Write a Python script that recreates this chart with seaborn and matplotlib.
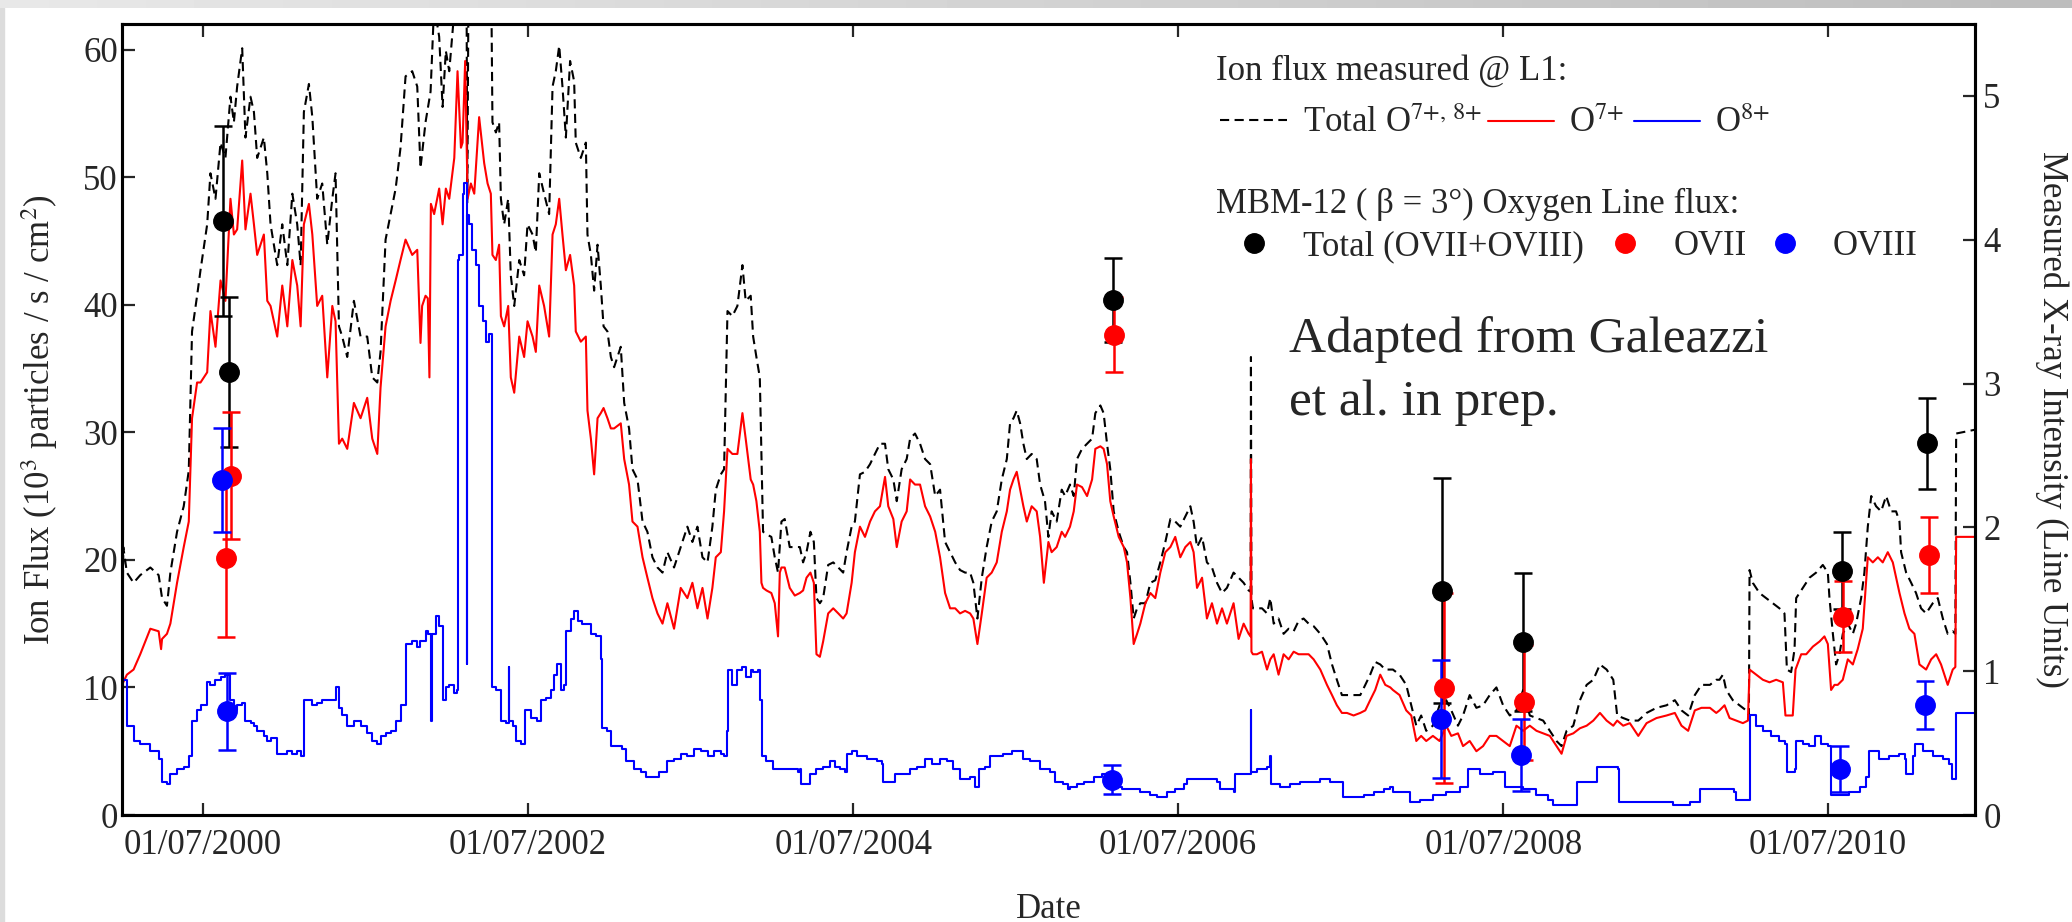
import numpy as np
import pandas as pd
import matplotlib
matplotlib.use("Agg")
import matplotlib.pyplot as plt
import matplotlib.dates as mdates
from matplotlib.lines import Line2D
from matplotlib.patches import Rectangle
import seaborn as sns

# ---------------- data (decimal years) ----------------
total_t = [
2000.000, 2000.008, 2000.030, 2000.071, 2000.112, 2000.174, 2000.225, 2000.246, 2000.276, 2000.297,
2000.338, 2000.379, 2000.410, 2000.430, 2000.461, 2000.482, 2000.523, 2000.543, 2000.574, 2000.605,
2000.635, 2000.666, 2000.687, 2000.707, 2000.738, 2000.758, 2000.789, 2000.810, 2000.830, 2000.871,
2000.892, 2000.912, 2000.953, 2000.984, 2001.015, 2001.046, 2001.076, 2001.097, 2001.117, 2001.148,
2001.169, 2001.199, 2001.230, 2001.261, 2001.292, 2001.312, 2001.333, 2001.353, 2001.384, 2001.425,
2001.466, 2001.507, 2001.538, 2001.569, 2001.589, 2001.620, 2001.651, 2001.682, 2001.712, 2001.743,
2001.784, 2001.815, 2001.835, 2001.866, 2001.897, 2001.919, 2001.950, 2001.971, 2001.991, 2002.012,
2002.043, 2002.063, 2002.094, 2002.119, 2002.123, 2002.130, 2002.270, 2002.278, 2002.299, 2002.319,
2002.330, 2002.350, 2002.375, 2002.391, 2002.412, 2002.443, 2002.473, 2002.494, 2002.525, 2002.545,
2002.566, 2002.596, 2002.627, 2002.648, 2002.668, 2002.689, 2002.709, 2002.730, 2002.756, 2002.781,
2002.791, 2002.822, 2002.853, 2002.863, 2002.884, 2002.904, 2002.925, 2002.945, 2002.962, 2002.986,
2003.007, 2003.027, 2003.068, 2003.089, 2003.119, 2003.140, 2003.171, 2003.202, 2003.232, 2003.263,
2003.294, 2003.325, 2003.355, 2003.396, 2003.437, 2003.478, 2003.509, 2003.540, 2003.571, 2003.602,
2003.632, 2003.653, 2003.684, 2003.704, 2003.725, 2003.755, 2003.786, 2003.817, 2003.837, 2003.868,
2003.883, 2003.903, 2003.924, 2003.934, 2003.944, 2003.965, 2003.995, 2004.016, 2004.036, 2004.057,
2004.077, 2004.108, 2004.139, 2004.170, 2004.190, 2004.211, 2004.235, 2004.256, 2004.272, 2004.293,
2004.313, 2004.344, 2004.375, 2004.406, 2004.436, 2004.457, 2004.488, 2004.508, 2004.539, 2004.570,
2004.601, 2004.631, 2004.662, 2004.693, 2004.713, 2004.744, 2004.765, 2004.795, 2004.826, 2004.847,
2004.877, 2004.908, 2004.939, 2004.970, 2005.001, 2005.031, 2005.062, 2005.093, 2005.124, 2005.154,
2005.185, 2005.216, 2005.236, 2005.261, 2005.288, 2005.318, 2005.349, 2005.380, 2005.411, 2005.442,
2005.462, 2005.483, 2005.503, 2005.524, 2005.544, 2005.565, 2005.595, 2005.626, 2005.647, 2005.677,
2005.698, 2005.718, 2005.749, 2005.780, 2005.801, 2005.831, 2005.854, 2005.874, 2005.905, 2005.936,
2005.967, 2005.987, 2006.018, 2006.038, 2006.059, 2006.079, 2006.100, 2006.131, 2006.162, 2006.182,
2006.203, 2006.223, 2006.244, 2006.264, 2006.295, 2006.326, 2006.356, 2006.387, 2006.418, 2006.449,
2006.479, 2006.510, 2006.541, 2006.572, 2006.592, 2006.613, 2006.644, 2006.674, 2006.705, 2006.736,
2006.767, 2006.797, 2006.838, 2006.869, 2006.900, 2006.931, 2006.943, 2006.945, 2006.948, 2006.957,
2006.982, 2007.013, 2007.044, 2007.064, 2007.085, 2007.115, 2007.146, 2007.177, 2007.208, 2007.238,
2007.269, 2007.300, 2007.331, 2007.372, 2007.413, 2007.444, 2007.474, 2007.505, 2007.536, 2007.577,
2007.618, 2007.649, 2007.679, 2007.710, 2007.741, 2007.772, 2007.803, 2007.819, 2007.860, 2007.901,
2007.932, 2007.963, 2007.993, 2008.024, 2008.065, 2008.106, 2008.147, 2008.178, 2008.219, 2008.250,
2008.291, 2008.332, 2008.373, 2008.414, 2008.455, 2008.496, 2008.537, 2008.578, 2008.619, 2008.660,
2008.701, 2008.742, 2008.783, 2008.824, 2008.855, 2008.886, 2008.927, 2008.968, 2009.009, 2009.050,
2009.091, 2009.132, 2009.173, 2009.197, 2009.234, 2009.275, 2009.327, 2009.378, 2009.439, 2009.501,
2009.552, 2009.593, 2009.634, 2009.675, 2009.716, 2009.768, 2009.807, 2009.827, 2009.848, 2009.868,
2009.909, 2009.950, 2009.991, 2010.008, 2010.012, 2010.032, 2010.073, 2010.114, 2010.155, 2010.196,
2010.227, 2010.242, 2010.268, 2010.289, 2010.299, 2010.340, 2010.381, 2010.422, 2010.463, 2010.494,
2010.504, 2010.525, 2010.545, 2010.566, 2010.586, 2010.617, 2010.648, 2010.668, 2010.699, 2010.719,
2010.740, 2010.761, 2010.791, 2010.822, 2010.853, 2010.884, 2010.914, 2010.935, 2010.945, 2010.976,
2011.007, 2011.037, 2011.068, 2011.099, 2011.140, 2011.171, 2011.202, 2011.232, 2011.263, 2011.279,
2011.284, 2011.400]
total_v = [
10.5, 21.0, 19.0, 18.2, 18.8, 19.4, 18.8, 17.0, 16.4, 19.0,
22.2, 24.2, 27.0, 37.9, 40.7, 42.7, 46.3, 50.3, 48.3, 52.7,
51.5, 56.3, 54.3, 57.1, 60.1, 53.1, 56.3, 55.1, 51.5, 53.1,
50.3, 46.3, 43.1, 46.3, 43.1, 48.7, 46.3, 43.1, 55.1, 57.3,
54.7, 48.3, 49.5, 44.7, 48.3, 50.3, 38.3, 37.5, 35.9, 40.3,
37.5, 37.5, 34.3, 33.9, 36.3, 45.1, 47.1, 49.1, 52.3, 57.9,
58.3, 57.1, 50.7, 54.3, 56.7, 63.5, 61.0, 55.5, 59.9, 58.3,
63.0, 64.0, 64.0, 63.0, 48.0, 64.0, 66.0, 54.3, 53.5, 54.3,
48.3, 46.3, 48.3, 42.3, 39.9, 43.5, 42.3, 46.3, 45.5, 44.1,
50.3, 48.7, 47.1, 57.1, 58.3, 60.3, 57.1, 53.1, 59.1, 57.5,
52.7, 51.5, 52.7, 45.5, 43.9, 41.1, 44.7, 41.5, 38.3, 37.9,
35.9, 35.1, 36.7, 32.3, 30.3, 27.1, 26.3, 23.0, 22.2, 20.2,
19.4, 19.0, 20.6, 19.4, 21.0, 22.6, 21.4, 22.6, 20.2, 19.8,
22.6, 25.5, 26.7, 27.1, 39.5, 39.1, 39.9, 43.1, 40.3, 40.7,
37.5, 35.9, 34.3, 28.3, 22.2, 22.0, 21.8, 20.2, 19.0, 23.0,
23.2, 21.0, 21.0, 21.0, 19.8, 20.6, 22.2, 21.4, 17.0, 16.6,
17.0, 19.6, 19.8, 19.4, 19.0, 20.6, 22.6, 23.0, 26.7, 26.9,
27.5, 28.3, 29.1, 29.1, 27.1, 26.3, 24.6, 27.1, 27.9, 29.5,
29.9, 29.1, 27.9, 27.5, 25.0, 25.5, 21.4, 20.6, 19.8, 19.2,
19.0, 19.0, 18.2, 15.4, 18.6, 21.0, 23.0, 23.8, 26.3, 27.9,
30.7, 31.1, 31.7, 30.7, 29.1, 27.9, 28.3, 27.9, 25.9, 24.6,
21.8, 23.8, 23.0, 25.5, 25.0, 25.9, 25.0, 27.9, 28.7, 29.1,
29.5, 31.5, 32.1, 31.5, 29.1, 27.1, 23.8, 22.2, 21.0, 20.6,
18.2, 15.4, 16.2, 16.6, 16.6, 18.2, 18.4, 19.8, 21.4, 23.2,
23.0, 22.6, 23.4, 24.2, 23.0, 21.0, 21.8, 19.8, 19.4, 18.2,
17.4, 17.8, 19.0, 18.6, 18.2, 17.6, 17.5, 35.9, 17.0, 16.2,
16.2, 16.2, 15.8, 17.0, 15.0, 15.4, 14.2, 14.6, 14.4, 15.2,
15.4, 15.0, 14.8, 14.2, 13.4, 11.8, 10.6, 9.4, 9.4, 9.4,
9.4, 10.2, 11.0, 12.0, 11.8, 11.4, 11.4, 11.4, 11.0, 10.2,
8.6, 7.0, 7.8, 6.6, 7.0, 8.6, 9.0, 8.2, 7.0, 7.8,
9.4, 8.4, 8.6, 9.4, 10.0, 8.6, 7.8, 8.2, 9.8, 7.8,
7.6, 7.4, 6.6, 5.8, 5.4, 6.6, 7.0, 9.0, 10.2, 10.6,
11.8, 11.4, 10.6, 7.8, 7.6, 7.4, 7.4, 8.0, 8.4, 8.6,
9.0, 8.2, 7.8, 9.4, 10.2, 10.2, 10.6, 10.6, 11.0, 9.8,
9.0, 8.6, 8.2, 7.8, 19.2, 18.2, 17.4, 17.0, 16.6, 16.2,
15.8, 11.4, 11.2, 13.0, 17.0, 17.8, 18.6, 19.0, 19.6, 19.0,
17.0, 14.2, 11.8, 12.6, 14.2, 15.0, 14.2, 15.0, 17.0, 19.0,
22.6, 25.0, 24.2, 23.8, 25.0, 23.8, 23.8, 23.0, 20.6, 19.0,
18.2, 17.4, 16.2, 15.8, 16.6, 17.0, 15.4, 14.2, 14.4, 14.2,
29.9, 30.2]

o7_t = [
2000.000, 2000.030, 2000.071, 2000.112, 2000.174, 2000.225, 2000.240, 2000.246, 2000.276, 2000.297,
2000.338, 2000.379, 2000.410, 2000.430, 2000.461, 2000.482, 2000.523, 2000.543, 2000.574, 2000.605,
2000.635, 2000.666, 2000.687, 2000.707, 2000.738, 2000.758, 2000.789, 2000.810, 2000.830, 2000.871,
2000.892, 2000.912, 2000.953, 2000.984, 2001.015, 2001.046, 2001.076, 2001.097, 2001.117, 2001.148,
2001.169, 2001.199, 2001.230, 2001.261, 2001.292, 2001.312, 2001.333, 2001.353, 2001.384, 2001.425,
2001.466, 2001.507, 2001.538, 2001.569, 2001.589, 2001.620, 2001.651, 2001.682, 2001.712, 2001.743,
2001.784, 2001.815, 2001.835, 2001.845, 2001.866, 2001.880, 2001.890, 2001.899, 2001.919, 2001.950,
2001.971, 2001.991, 2002.012, 2002.043, 2002.063, 2002.084, 2002.094, 2002.110, 2002.125, 2002.145,
2002.166, 2002.196, 2002.227, 2002.248, 2002.268, 2002.278, 2002.299, 2002.319, 2002.330, 2002.350,
2002.375, 2002.391, 2002.412, 2002.443, 2002.473, 2002.494, 2002.525, 2002.545, 2002.566, 2002.596,
2002.627, 2002.648, 2002.668, 2002.689, 2002.709, 2002.730, 2002.756, 2002.781, 2002.791, 2002.822,
2002.853, 2002.863, 2002.884, 2002.904, 2002.925, 2002.945, 2002.962, 2002.986, 2003.007, 2003.027,
2003.068, 2003.089, 2003.119, 2003.140, 2003.171, 2003.202, 2003.232, 2003.263, 2003.294, 2003.325,
2003.355, 2003.396, 2003.437, 2003.478, 2003.509, 2003.540, 2003.571, 2003.602, 2003.632, 2003.653,
2003.684, 2003.704, 2003.725, 2003.755, 2003.786, 2003.817, 2003.837, 2003.868, 2003.883, 2003.903,
2003.924, 2003.934, 2003.944, 2003.965, 2003.995, 2004.016, 2004.036, 2004.047, 2004.057, 2004.077,
2004.108, 2004.139, 2004.170, 2004.190, 2004.211, 2004.235, 2004.256, 2004.272, 2004.293, 2004.313,
2004.344, 2004.375, 2004.406, 2004.436, 2004.457, 2004.488, 2004.508, 2004.539, 2004.570, 2004.601,
2004.631, 2004.662, 2004.693, 2004.713, 2004.744, 2004.765, 2004.795, 2004.826, 2004.847, 2004.877,
2004.908, 2004.939, 2004.970, 2005.001, 2005.031, 2005.062, 2005.093, 2005.124, 2005.154, 2005.185,
2005.216, 2005.236, 2005.261, 2005.288, 2005.318, 2005.349, 2005.380, 2005.411, 2005.442, 2005.462,
2005.483, 2005.503, 2005.524, 2005.544, 2005.565, 2005.595, 2005.626, 2005.647, 2005.670, 2005.698,
2005.718, 2005.749, 2005.780, 2005.801, 2005.831, 2005.854, 2005.874, 2005.905, 2005.936, 2005.967,
2005.987, 2006.018, 2006.038, 2006.059, 2006.079, 2006.100, 2006.131, 2006.162, 2006.182, 2006.203,
2006.223, 2006.244, 2006.264, 2006.295, 2006.326, 2006.356, 2006.387, 2006.418, 2006.449, 2006.479,
2006.510, 2006.541, 2006.572, 2006.592, 2006.613, 2006.644, 2006.674, 2006.705, 2006.736, 2006.767,
2006.797, 2006.838, 2006.869, 2006.900, 2006.931, 2006.943, 2006.945, 2006.948, 2006.957, 2006.982,
2007.013, 2007.044, 2007.064, 2007.085, 2007.115, 2007.146, 2007.177, 2007.208, 2007.238, 2007.269,
2007.300, 2007.331, 2007.372, 2007.413, 2007.444, 2007.474, 2007.505, 2007.536, 2007.577, 2007.618,
2007.649, 2007.679, 2007.710, 2007.741, 2007.772, 2007.803, 2007.819, 2007.860, 2007.901, 2007.932,
2007.963, 2007.993, 2008.024, 2008.065, 2008.106, 2008.147, 2008.178, 2008.219, 2008.250, 2008.291,
2008.332, 2008.373, 2008.414, 2008.455, 2008.496, 2008.537, 2008.578, 2008.619, 2008.660, 2008.701,
2008.742, 2008.783, 2008.824, 2008.855, 2008.886, 2008.927, 2008.968, 2009.009, 2009.050, 2009.091,
2009.132, 2009.173, 2009.197, 2009.234, 2009.275, 2009.327, 2009.378, 2009.439, 2009.501, 2009.552,
2009.593, 2009.634, 2009.675, 2009.716, 2009.768, 2009.807, 2009.827, 2009.858, 2009.889, 2009.930,
2009.971, 2010.002, 2010.012, 2010.053, 2010.094, 2010.135, 2010.176, 2010.217, 2010.233, 2010.278,
2010.295, 2010.330, 2010.361, 2010.402, 2010.443, 2010.473, 2010.494, 2010.514, 2010.535, 2010.555,
2010.586, 2010.617, 2010.648, 2010.678, 2010.709, 2010.740, 2010.771, 2010.802, 2010.832, 2010.863,
2010.894, 2010.935, 2010.966, 2010.996, 2011.027, 2011.058, 2011.099, 2011.130, 2011.161, 2011.191,
2011.232, 2011.263, 2011.279, 2011.284, 2011.400]
o7_v = [
10.2, 11.0, 11.4, 12.6, 14.6, 14.4, 13.0, 13.8, 14.2, 15.0,
18.2, 21.0, 23.0, 31.1, 33.9, 33.9, 34.7, 39.5, 36.7, 41.9,
40.3, 48.3, 45.5, 45.9, 51.3, 45.9, 48.7, 46.3, 43.9, 45.5,
40.3, 39.9, 37.5, 41.5, 38.3, 43.5, 41.5, 38.3, 46.3, 47.9,
45.5, 39.9, 40.7, 34.3, 39.9, 38.7, 29.1, 29.5, 28.7, 32.3,
31.1, 32.7, 29.5, 28.3, 33.5, 38.3, 40.3, 41.9, 43.5, 45.1,
43.9, 44.3, 37.0, 39.9, 40.7, 40.5, 34.3, 47.9, 47.1, 49.1,
46.3, 49.1, 48.3, 51.5, 58.3, 52.3, 52.7, 59.1, 48.3, 49.5,
48.7, 54.7, 51.1, 49.5, 48.7, 43.9, 43.5, 44.7, 39.1, 38.3,
39.9, 34.3, 33.1, 37.5, 35.9, 38.7, 37.5, 36.3, 41.5, 39.9,
37.5, 45.5, 46.3, 48.3, 45.5, 42.7, 43.9, 41.5, 37.9, 37.1,
37.5, 31.7, 29.5, 26.7, 31.1, 31.5, 31.9, 31.1, 30.3, 30.3,
30.7, 27.9, 25.9, 23.0, 22.6, 20.2, 18.6, 17.0, 15.8, 15.0,
16.6, 14.6, 17.8, 17.0, 18.2, 16.2, 17.8, 15.4, 17.8, 20.2,
20.6, 23.8, 28.7, 28.3, 28.3, 31.5, 29.5, 26.3, 25.9, 24.6,
22.2, 18.2, 17.8, 17.6, 17.4, 16.6, 14.0, 19.0, 19.4, 19.4,
17.8, 17.2, 17.4, 17.6, 18.6, 19.0, 18.2, 12.6, 12.4, 13.6,
15.8, 16.2, 15.8, 15.4, 15.8, 18.2, 20.6, 22.6, 21.8, 23.0,
23.8, 24.2, 26.5, 24.2, 23.2, 21.0, 23.0, 23.8, 26.3, 25.9,
25.9, 24.2, 23.4, 22.2, 20.2, 17.4, 16.2, 16.2, 15.8, 16.0,
15.8, 15.4, 13.4, 15.8, 18.6, 19.0, 19.8, 22.2, 23.8, 25.5,
26.3, 26.9, 25.5, 24.2, 23.0, 24.2, 23.8, 21.8, 18.2, 21.4,
20.6, 21.0, 22.2, 21.8, 22.6, 23.8, 25.9, 25.7, 25.0, 26.3,
28.7, 28.9, 28.7, 27.5, 24.6, 23.4, 21.8, 21.0, 19.8, 17.0,
13.4, 14.2, 15.0, 16.6, 17.4, 17.0, 19.0, 20.6, 21.0, 21.8,
20.2, 21.0, 21.4, 20.6, 17.8, 18.6, 15.4, 16.6, 15.0, 16.2,
15.0, 16.6, 13.8, 15.0, 14.2, 14.0, 27.9, 12.8, 12.6, 12.6,
12.8, 11.4, 12.2, 12.6, 11.0, 12.6, 12.2, 12.8, 12.6, 12.6,
12.6, 12.2, 11.4, 10.2, 9.4, 8.6, 8.0, 8.0, 7.8, 8.0,
8.2, 9.0, 9.8, 11.0, 10.2, 10.0, 9.8, 9.4, 8.2, 7.8,
5.8, 6.2, 5.8, 6.2, 5.8, 7.0, 6.2, 6.4, 5.4, 5.8,
5.0, 5.4, 6.2, 6.2, 5.8, 5.4, 7.0, 6.6, 7.0, 6.6,
6.4, 6.2, 5.4, 4.8, 6.2, 6.4, 6.8, 7.0, 7.4, 8.0,
7.4, 7.0, 7.4, 7.0, 7.2, 6.2, 7.2, 7.6, 7.8, 8.0,
7.0, 6.6, 8.2, 8.4, 8.4, 8.0, 8.2, 8.6, 7.6, 7.4,
7.2, 7.4, 11.4, 11.0, 10.6, 10.4, 10.6, 10.4, 7.8, 7.8,
11.4, 12.6, 12.6, 13.2, 13.6, 14.0, 13.4, 9.8, 10.2, 10.2,
10.6, 12.2, 11.8, 13.0, 14.6, 20.2, 19.8, 20.2, 19.8, 20.6,
19.8, 17.4, 15.8, 14.6, 14.2, 11.8, 11.4, 12.2, 12.6, 11.8,
10.2, 11.4, 11.6, 21.8, 21.8]

o8_t = [
2000.000, 2000.003, 2000.030, 2000.071, 2000.112, 2000.174, 2000.225, 2000.246, 2000.276, 2000.297,
2000.338, 2000.379, 2000.410, 2000.430, 2000.461, 2000.482, 2000.523, 2000.543, 2000.574, 2000.605,
2000.635, 2000.666, 2000.687, 2000.707, 2000.738, 2000.758, 2000.789, 2000.810, 2000.830, 2000.871,
2000.892, 2000.912, 2000.953, 2000.984, 2001.015, 2001.046, 2001.076, 2001.097, 2001.117, 2001.148,
2001.169, 2001.199, 2001.230, 2001.261, 2001.292, 2001.312, 2001.333, 2001.353, 2001.384, 2001.425,
2001.466, 2001.507, 2001.538, 2001.569, 2001.589, 2001.620, 2001.651, 2001.682, 2001.712, 2001.743,
2001.784, 2001.815, 2001.835, 2001.866, 2001.880, 2001.895, 2001.899, 2001.903, 2001.930, 2001.950,
2001.971, 2001.991, 2002.012, 2002.043, 2002.059, 2002.063, 2002.073, 2002.094, 2002.104, 2002.119,
2002.121, 2002.123, 2002.135, 2002.155, 2002.176, 2002.196, 2002.217, 2002.237, 2002.258, 2002.274,
2002.278, 2002.299, 2002.330, 2002.361, 2002.377, 2002.379, 2002.381, 2002.402, 2002.422, 2002.453,
2002.477, 2002.514, 2002.555, 2002.576, 2002.607, 2002.637, 2002.658, 2002.678, 2002.699, 2002.719,
2002.730, 2002.761, 2002.781, 2002.802, 2002.832, 2002.863, 2002.884, 2002.914, 2002.945, 2002.955,
2002.986, 2003.007, 2003.048, 2003.078, 2003.099, 2003.150, 2003.191, 2003.222, 2003.273, 2003.304,
2003.355, 2003.396, 2003.437, 2003.478, 2003.519, 2003.561, 2003.602, 2003.643, 2003.684, 2003.704,
2003.721, 2003.729, 2003.755, 2003.786, 2003.817, 2003.837, 2003.868, 2003.883, 2003.913, 2003.928,
2003.940, 2003.965, 2004.005, 2004.047, 2004.088, 2004.129, 2004.159, 2004.170, 2004.180, 2004.221,
2004.231, 2004.272, 2004.313, 2004.354, 2004.385, 2004.416, 2004.447, 2004.457, 2004.488, 2004.518,
2004.580, 2004.642, 2004.672, 2004.683, 2004.724, 2004.754, 2004.806, 2004.847, 2004.888, 2004.939,
2004.980, 2005.031, 2005.072, 2005.113, 2005.154, 2005.216, 2005.247, 2005.273, 2005.308, 2005.339,
2005.380, 2005.421, 2005.472, 2005.503, 2005.544, 2005.585, 2005.647, 2005.708, 2005.739, 2005.790,
2005.821, 2005.833, 2005.874, 2005.915, 2005.977, 2006.028, 2006.079, 2006.100, 2006.151, 2006.213,
2006.264, 2006.326, 2006.367, 2006.418, 2006.428, 2006.479, 2006.531, 2006.551, 2006.613, 2006.674,
2006.736, 2006.756, 2006.797, 2006.838, 2006.849, 2006.900, 2006.943, 2006.945, 2006.948, 2006.982,
2007.044, 2007.060, 2007.068, 2007.126, 2007.187, 2007.249, 2007.310, 2007.372, 2007.433, 2007.505,
2007.511, 2007.577, 2007.638, 2007.700, 2007.762, 2007.803, 2007.819, 2007.901, 2007.922, 2007.983,
2008.045, 2008.065, 2008.147, 2008.229, 2008.274, 2008.281, 2008.352, 2008.434, 2008.500, 2008.506,
2008.578, 2008.619, 2008.701, 2008.773, 2008.804, 2008.886, 2008.947, 2008.951, 2009.009, 2009.070,
2009.152, 2009.204, 2009.210, 2009.296, 2009.419, 2009.542, 2009.645, 2009.706, 2009.710, 2009.768,
2009.807, 2009.919, 2009.930, 2010.008, 2010.016, 2010.053, 2010.094, 2010.145, 2010.196, 2010.233,
2010.242, 2010.289, 2010.299, 2010.340, 2010.381, 2010.412, 2010.453, 2010.494, 2010.514, 2010.566,
2010.627, 2010.689, 2010.730, 2010.750, 2010.812, 2010.873, 2010.935, 2010.966, 2010.976, 2011.017,
2011.033, 2011.078, 2011.140, 2011.202, 2011.243, 2011.259, 2011.279, 2011.284, 2011.400]
o8_v = [
2.6, 10.6, 7.0, 5.8, 5.6, 5.0, 4.4, 2.6, 2.4, 3.2,
3.6, 3.8, 4.6, 7.4, 8.2, 8.6, 10.4, 10.2, 10.6, 10.8,
11.0, 9.0, 8.2, 8.6, 8.8, 7.4, 7.2, 7.0, 6.6, 6.2,
5.8, 6.0, 4.8, 4.8, 5.0, 4.8, 5.0, 4.6, 9.0, 9.0,
8.6, 8.8, 9.0, 9.0, 9.0, 10.0, 8.4, 7.8, 7.0, 7.4,
7.0, 6.4, 5.8, 5.6, 6.2, 6.4, 6.6, 7.4, 8.6, 13.4,
13.6, 13.2, 13.6, 14.4, 14.2, 14.2, 7.4, 14.2, 15.6, 14.8,
9.0, 10.0, 10.2, 9.6, 9.8, 43.5, 43.9, 48.7, 49.5, 47.0,
11.8, 47.0, 46.3, 44.3, 43.1, 39.9, 38.7, 37.1, 37.7, 35.9,
10.0, 9.8, 7.4, 7.2, 7.4, 11.6, 7.4, 7.0, 5.8, 5.6,
8.2, 7.6, 7.4, 9.0, 9.2, 9.8, 11.0, 11.8, 9.8, 10.2,
14.4, 15.4, 16.0, 15.2, 15.0, 15.0, 14.2, 14.0, 12.2, 6.8,
6.6, 5.4, 5.4, 5.2, 4.2, 3.6, 3.4, 3.0, 3.0, 3.4,
4.2, 4.4, 4.8, 4.6, 5.2, 5.0, 4.6, 5.0, 4.8, 4.6,
6.6, 11.4, 10.2, 11.4, 11.6, 10.8, 11.4, 11.2, 11.4, 9.0,
4.6, 4.2, 3.6, 3.6, 3.6, 3.6, 3.4, 3.6, 2.4, 2.4,
3.2, 3.6, 3.8, 4.2, 3.8, 3.6, 3.4, 4.8, 5.0, 4.6,
4.4, 4.2, 4.0, 2.6, 2.6, 3.2, 3.2, 3.6, 3.8, 4.4,
4.0, 4.4, 4.2, 3.6, 2.8, 3.0, 2.2, 3.6, 3.8, 4.6,
4.6, 4.8, 5.0, 5.0, 4.4, 4.2, 3.6, 3.4, 2.6, 2.4,
2.0, 2.2, 2.4, 2.6, 3.0, 3.2, 3.0, 2.2, 2.0, 2.0,
1.8, 1.6, 1.4, 1.4, 1.8, 2.0, 2.4, 2.8, 2.8, 2.8,
2.6, 2.0, 2.0, 1.8, 3.2, 3.2, 3.4, 8.2, 3.4, 3.6,
3.8, 4.6, 2.4, 2.2, 2.4, 2.6, 2.6, 2.8, 2.6, 2.6,
1.4, 1.4, 1.6, 1.8, 2.0, 2.2, 1.8, 1.8, 1.0, 1.2,
1.2, 1.6, 1.8, 2.2, 2.2, 3.6, 3.2, 3.4, 3.4, 2.2,
2.2, 2.0, 1.6, 1.2, 0.8, 0.8, 0.8, 2.6, 2.6, 3.8,
3.8, 3.6, 1.0, 1.0, 1.0, 0.8, 1.0, 1.0, 2.0, 2.0,
2.0, 1.8, 1.2, 1.2, 7.8, 7.0, 6.6, 6.2, 5.8, 5.6,
3.4, 3.6, 5.8, 5.6, 5.4, 6.2, 5.6, 5.4, 1.6, 1.6,
1.8, 2.2, 3.0, 5.0, 4.4, 4.6, 4.8, 4.4, 3.2, 4.6,
5.6, 5.0, 4.6, 4.4, 4.0, 2.8, 2.8, 8.0, 8.0]

# MBM-12 oxygen line fluxes (right axis, Line Units) with 1-sigma errors
obs_total_t = [2000.623, 2000.654, 2006.096, 2008.123, 2008.619, 2010.582, 2011.105]
obs_total_v = [4.13, 3.08, 3.58, 1.56, 1.20, 1.70, 2.585]
obs_total_e = [0.66, 0.52, 0.29, 0.78, 0.48, 0.27, 0.315]
obs_ovii_t = [2000.672, 2000.636, 2006.100, 2008.133, 2008.625, 2010.590, 2011.115]
obs_ovii_v = [2.36, 1.79, 3.34, 0.885, 0.785, 1.38, 1.81]
obs_ovii_e = [0.44, 0.55, 0.26, 0.66, 0.40, 0.245, 0.265]
obs_oviii_t = [2000.617, 2000.647, 2006.090, 2008.116, 2008.609, 2010.570, 2011.095]
obs_oviii_v = [2.33, 0.72, 0.245, 0.665, 0.415, 0.32, 0.765]
obs_oviii_e = [0.36, 0.27, 0.10, 0.41, 0.25, 0.16, 0.17]

tick_dates = ["2000-07-01", "2002-07-01", "2004-07-01", "2006-07-01", "2008-07-01", "2010-07-01"]
left_ticks = [0, 10, 20, 30, 40, 50, 60]
right_ticks = [0, 1, 2, 3, 4, 5]
x_range = (2000.0, 2011.40)

assert len(total_t) == len(total_v)
assert len(o7_t) == len(o7_v)
assert len(o8_t) == len(o8_v)


def dec2dt(t):
    y = int(np.floor(t))
    a = pd.Timestamp(year=y, month=1, day=1)
    b = pd.Timestamp(year=y + 1, month=1, day=1)
    return a + (b - a) * (t - y)


def dts(ts):
    return pd.to_datetime([dec2dt(t) for t in ts])


# ---------------- style ----------------
sns.set_style("ticks")
plt.rcParams["font.family"] = ["Liberation Serif", "DejaVu Serif"]
plt.rcParams["mathtext.fontset"] = "stix"

W, H = 2072, 922
fig = plt.figure(figsize=(W / 100, H / 100), dpi=100)
fig.patch.set_facecolor("white")

# slide decoration: grey band on top and thin grey stripe on the left
band = fig.add_axes([0, 1 - 8 / H, 1, 8 / H])
band.imshow(np.linspace(0.91, 0.74, 256)[None, :], cmap="gray", vmin=0, vmax=1,
            aspect="auto", extent=(0, 1, 0, 1))
band.set_axis_off()
fig.add_artist(Rectangle((0, 0), 4 / W, 1 - 8 / H, transform=fig.transFigure,
                         color="#dcdcdc", zorder=0))

ax = fig.add_axes([122 / W, 1 - 815 / H, 1853 / W, 791 / H])
ax2 = ax.twinx()

DASH = (0, (4.4, 2.6))
sns.lineplot(x=dts(total_t), y=total_v, ax=ax, color="black", linewidth=1.5,
             linestyle=DASH, estimator=None, sort=False)
sns.lineplot(x=dts(o7_t), y=o7_v, ax=ax, color="#ff0000", linewidth=1.5,
             estimator=None, sort=False)
sns.lineplot(x=dts(o8_t), y=o8_v, ax=ax, color="#0000ff", linewidth=1.5,
             drawstyle="steps-post", estimator=None, sort=False)

for t, v, e, c in [(obs_total_t, obs_total_v, obs_total_e, "black"),
                   (obs_ovii_t, obs_ovii_v, obs_ovii_e, "#ff0000"),
                   (obs_oviii_t, obs_oviii_v, obs_oviii_e, "#0000ff")]:
    ax2.errorbar(dts(t), v, yerr=e, fmt="o", color=c, mec=c, ms=14,
                 elinewidth=1.8, capsize=6.5, capthick=1.8, zorder=3)

ax.set_xlim(dec2dt(x_range[0]), dec2dt(x_range[1]))
ax.set_ylim(0, 62)
ax2.set_ylim(0, 5.5)
ax.set_yticks(left_ticks)
ax2.set_yticks(right_ticks)
ax.set_xticks(pd.to_datetime(tick_dates))
ax.xaxis.set_major_formatter(mdates.DateFormatter("%d/%m/%Y"))
ax.minorticks_off()
ax2.minorticks_off()

ax.tick_params(axis="x", direction="in", length=9, width=1.6, top=True, bottom=True,
               labeltop=False, labelsize=25, pad=10)
ax.tick_params(axis="y", direction="in", length=9, width=1.6, left=True, right=False,
               labelsize=25, pad=3)
ax2.tick_params(axis="y", direction="in", length=9, width=1.6, right=True, left=False,
                labelsize=25, pad=6)
for a in (ax, ax2):
    for s in a.spines.values():
        s.set_linewidth(2.2)
        s.set_color("black")

ax.set_xlabel("Date", fontsize=25)
ax.xaxis.label.set_va("baseline")
ax.xaxis.set_label_coords(0.5, (815 - 918) / 791)
ax.set_ylabel("Ion Flux (10$^{3}$ particles / s / cm$^{2}$)", fontsize=25)
ax.yaxis.label.set_va("baseline")
ax.yaxis.set_label_coords((50 - 122) / 1853, 0.5)
ax2.set_ylabel("Measured X-ray Intensity (Line Units)", fontsize=25, rotation=270)
ax2.yaxis.label.set_va("baseline")
ax2.yaxis.set_label_coords((2043 - 122) / 1853, 0.5)


# ---------------- legend block (hand placed like the original) ----------------
def fx(px):
    return px / W


def fy(py):
    return 1 - py / H


FS = 25
fig.text(fx(1216), fy(80), "Ion flux measured @ L1:", fontsize=FS, va="baseline")
fig.add_artist(Line2D([fx(1220), fx(1287)], [fy(120)] * 2, color="black", lw=1.5,
                      linestyle=DASH, transform=fig.transFigure))
fig.text(fx(1303), fy(132), r"Total O$^{7{+},\,8{+}}$", fontsize=FS, va="baseline")
fig.add_artist(Line2D([fx(1488), fx(1554)], [fy(121)] * 2, color="#ff0000", lw=1.5,
                      transform=fig.transFigure))
fig.text(fx(1569), fy(132), r"O$^{7{+}}$", fontsize=FS, va="baseline")
fig.add_artist(Line2D([fx(1634), fx(1700)], [fy(121)] * 2, color="#0000ff", lw=1.5,
                      transform=fig.transFigure))
fig.text(fx(1715), fy(132), r"O$^{8{+}}$", fontsize=FS, va="baseline")

fig.text(fx(1216), fy(213), "MBM-12 ( \u03b2 = 3\u00b0) Oxygen Line flux:", fontsize=FS,
         va="baseline")
for mx, c, lx, lab in [(1254, "black", 1303, "Total (OVII+OVIII)"),
                       (1625, "#ff0000", 1674, "OVII"),
                       (1785, "#0000ff", 1833, "OVIII")]:
    fig.add_artist(Line2D([fx(mx)], [fy(243)], marker="o", ms=14, color=c, mec=c,
                          linestyle="none", transform=fig.transFigure))
    fig.text(fx(lx), fy(255), lab, fontsize=FS, va="baseline")

fig.text(fx(1289), fy(352), "Adapted from Galeazzi", fontsize=37, va="baseline")
fig.text(fx(1289), fy(415), "et al. in prep.", fontsize=37, va="baseline")

fig.savefig("out.png", dpi=100)
